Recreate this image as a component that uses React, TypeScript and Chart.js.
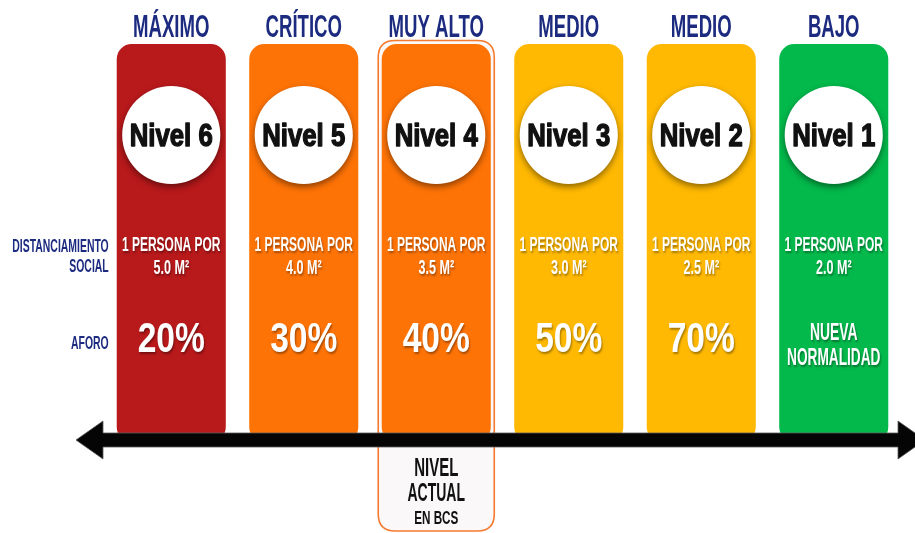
import React, { useEffect, useRef } from 'react';
import { Chart, registerables } from 'chart.js';

Chart.register(...registerables);

// ---- Data ----
const levels = ['Nivel 6', 'Nivel 5', 'Nivel 4', 'Nivel 3', 'Nivel 2', 'Nivel 1'];
const riskLabels = ['MÁXIMO', 'CRÍTICO', 'MUY ALTO', 'MEDIO', 'MEDIO', 'BAJO'];
const spacePerPerson = ['5.0', '4.0', '3.5', '3.0', '2.5', '2.0'];
const capacityLabels = ['20%', '30%', '40%', '50%', '70%', 'NUEVA\nNORMALIDAD'];
const columnValues = [1, 1, 1, 1, 1, 1];
const barColors = ['#b8191b', '#fe7306', '#fe7306', '#ffb902', '#ffb902', '#03b94b'];
const rowLabels = ['DISTANCIAMIENTO\nSOCIAL', 'AFORO'];
const currentLevel = 'Nivel 4';
const currentLabel = ['NIVEL', 'ACTUAL', 'EN BCS'];

const NAVY = '#1c2b80';
const FONT = '"Liberation Sans", Arial, sans-serif';

function txt(
  ctx: CanvasRenderingContext2D,
  s: string,
  x: number,
  y: number,
  size: number,
  color: string,
  sx: number,
  align: CanvasTextAlign = 'center',
  shadow = false,
  heavy = 0
) {
  ctx.save();
  ctx.translate(x, y);
  ctx.scale(sx, 1);
  ctx.font = `bold ${size}px ${FONT}`;
  ctx.textAlign = align;
  ctx.textBaseline = 'alphabetic';
  if (shadow) {
    ctx.shadowColor = 'rgba(0,0,0,0.35)';
    ctx.shadowOffsetX = 1;
    ctx.shadowOffsetY = 2;
    ctx.shadowBlur = 2;
  }
  ctx.fillStyle = color;
  ctx.fillText(s, 0, size * 0.36);
  if (heavy > 0) {
    ctx.shadowColor = 'transparent';
    ctx.strokeStyle = color;
    ctx.lineWidth = heavy;
    ctx.lineJoin = 'round';
    ctx.strokeText(s, 0, size * 0.36);
  }
  ctx.restore();
}

function roundRectPath(ctx: CanvasRenderingContext2D, l: number, t: number, r: number, b: number, rad: number) {
  ctx.beginPath();
  ctx.moveTo(l + rad, t);
  ctx.lineTo(r - rad, t);
  ctx.quadraticCurveTo(r, t, r, t + rad);
  ctx.lineTo(r, b - rad);
  ctx.quadraticCurveTo(r, b, r - rad, b);
  ctx.lineTo(l + rad, b);
  ctx.quadraticCurveTo(l, b, l, b - rad);
  ctx.lineTo(l, t + rad);
  ctx.quadraticCurveTo(l, t, l + rad, t);
  ctx.closePath();
}

const infographic = {
  id: 'infographic',
  beforeDatasetsDraw(chart: any) {
    const ctx: CanvasRenderingContext2D = chart.ctx;
    const meta = chart.getDatasetMeta(0);
    const idx = levels.indexOf(currentLevel);
    const bar: any = meta.data[idx];
    const { x, width } = bar.getProps(['x', 'width'], true);
    const l = x - width / 2 - 3.5;
    const r = x + width / 2 + 3.5;
    const t = chart.chartArea.top - 3.5;
    const b = chart.height - 2;
    ctx.save();
    roundRectPath(ctx, l, t, r, b, 17);
    ctx.fillStyle = '#faf8f8';
    ctx.fill();
    ctx.strokeStyle = '#f67a2e';
    ctx.lineWidth = 1.6;
    ctx.stroke();
    ctx.restore();
  },
  afterDatasetsDraw(chart: any) {
    const ctx: CanvasRenderingContext2D = chart.ctx;
    const area = chart.chartArea;
    const meta = chart.getDatasetMeta(0);
    const top = area.top;

    // Arrow
    const ay = area.bottom - 2;
    const half = 7;
    const headH = 19;
    const lTip = area.left - 29;
    const lBase = area.left - 2;
    const rBase = area.right - 2;
    const rTip = area.right + 25;
    ctx.save();
    ctx.beginPath();
    ctx.moveTo(lTip, ay);
    ctx.lineTo(lBase, ay - headH);
    ctx.lineTo(lBase, ay - half);
    ctx.lineTo(rBase, ay - half);
    ctx.lineTo(rBase, ay - headH);
    ctx.lineTo(rTip, ay);
    ctx.lineTo(rBase, ay + headH);
    ctx.lineTo(rBase, ay + half);
    ctx.lineTo(lBase, ay + half);
    ctx.lineTo(lBase, ay + headH);
    ctx.closePath();
    ctx.fillStyle = '#050505';
    ctx.fill();
    ctx.strokeStyle = 'rgba(90,90,90,0.8)';
    ctx.lineWidth = 1;
    ctx.stroke();
    ctx.restore();

    meta.data.forEach((bar: any, i: number) => {
      const { x, width } = bar.getProps(['x', 'width'], true);
      // title
      txt(ctx, riskLabels[i], x, top - 18, 31, NAVY, 0.6);
      // circle
      const cy = top + 91;
      const rad = width * 0.45;
      ctx.save();
      ctx.beginPath();
      ctx.arc(x, cy, rad, 0, Math.PI * 2);
      ctx.shadowColor = 'rgba(0,0,0,0.45)';
      ctx.shadowBlur = 6;
      ctx.shadowOffsetY = 3;
      ctx.fillStyle = '#ffffff';
      ctx.fill();
      ctx.restore();
      txt(ctx, levels[i], x, cy, 31, '#111111', 0.83, 'center', false, 1.4);
      // distancing
      txt(ctx, '1 PERSONA POR', x, top + 199, 21, '#ffffff', 0.57, 'center', true);
      txt(ctx, `${spacePerPerson[i]} M²`, x, top + 222, 21, '#ffffff', 0.6, 'center', true);
      // capacity
      const cap = capacityLabels[i].split('\n');
      if (cap.length === 1) {
        txt(ctx, cap[0], x, top + 293, 42, '#ffffff', 0.8, 'center', true);
      } else {
        txt(ctx, cap[0], x, top + 287, 24, '#ffffff', 0.58, 'center', true);
        txt(ctx, cap[1], x, top + 312, 24, '#ffffff', 0.57, 'center', true);
      }
      if (levels[i] === currentLevel) {
        txt(ctx, currentLabel[0], x, ay + 27, 25, '#111111', 0.6);
        txt(ctx, currentLabel[1], x, ay + 52, 25, '#111111', 0.56);
        txt(ctx, currentLabel[2], x, ay + 78, 18, '#111111', 0.65);
      }
    });

    // Row labels
    const firstBar: any = meta.data[0];
    const fx = firstBar.getProps(['x', 'width'], true);
    const lx = fx.x - fx.width / 2 - 8;
    const r0 = rowLabels[0].split('\n');
    txt(ctx, r0[0], lx, top + 202, 18, NAVY, 0.58, 'right');
    txt(ctx, r0[1], lx, top + 222, 18, NAVY, 0.58, 'right');
    txt(ctx, rowLabels[1], lx, top + 299, 18, NAVY, 0.58, 'right');
  },
};

export default function App() {
  const ref = useRef<HTMLCanvasElement>(null);
  useEffect(() => {
    if (!ref.current) return;
    const chart = new Chart(ref.current, {
      type: 'bar',
      data: {
        labels: levels,
        datasets: [
          {
            data: columnValues,
            backgroundColor: barColors,
            borderRadius: 15,
            borderSkipped: false,
            barPercentage: 0.823,
            categoryPercentage: 1,
          },
        ],
      },
      options: {
        responsive: false,
        animation: false,
        events: [],
        layout: { padding: { left: 105, right: 15, top: 44, bottom: 91 } },
        plugins: { legend: { display: false }, tooltip: { enabled: false } },
        scales: {
          x: { display: false },
          y: { display: false, min: 0, max: 1 },
        },
      },
      plugins: [infographic],
    });
    return () => chart.destroy();
  }, []);
  return (
    <div style={{ position: 'absolute', left: 0, top: 0, width: 915, height: 533, background: '#fff' }}>
      <canvas ref={ref} width={915} height={533} style={{ display: 'block' }} />
    </div>
  );
}
